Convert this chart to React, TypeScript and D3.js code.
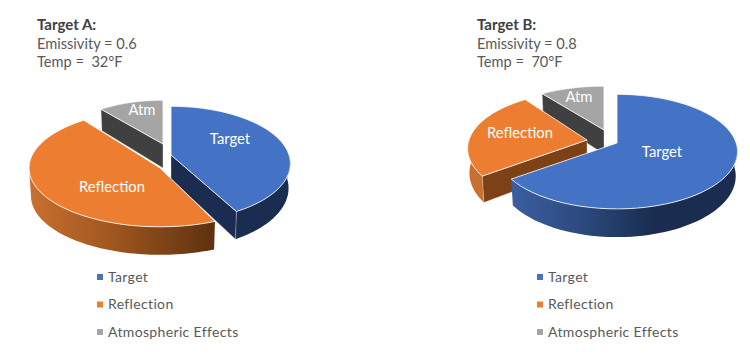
import React from "react";
import * as d3 from "d3";

const categories = ["Target", "Reflection", "Atm"];
const legendLabels = ["Target", "Reflection", "Atmospheric Effects"];
const targetAValues = [42, 47, 11];
const targetBValues = [65, 25, 10];
const targetANotes = ["Target A:", "Emissivity = 0.6", "Temp =  32°F"];
const targetBNotes = ["Target B:", "Emissivity = 0.8", "Temp =  70°F"];

const W = 750, H = 357;
const FONT = "Lato, Carlito, sans-serif";
const TOP = ["#4472c4", "#ed7d31", "#a5a5a5"];
const CUT = ["#1a2d50", "#7c4216", "#404040"];
const R = 118, B = 56, DEPTH = 24, BOTTOM_SHRINK = 0.985;
const TAU = 2 * Math.PI;

type Pt = [number, number];
type Slice = { i: number; a0: number; a1: number };
type Geo = { apex: Pt; sx: number; sy: number; rot: number; p: number; d: number };

function project(g: Geo, a: number, bottom = false): Pt {
  const X = Math.sin(a), Y = Math.cos(a);
  const s = 1 / (1 + g.p * Y);
  const k = bottom ? BOTTOM_SHRINK : 1;
  return [
    g.apex[0] + R * g.sx * X * s * k,
    g.apex[1] - B * g.sy * Y * s + (bottom ? g.d * s : 0),
  ];
}
const line = d3.line<Pt>();
const ring = (g: Geo, a0: number, a1: number, bottom = false): Pt[] =>
  d3.range(0, 61).map((k) => project(g, a0 + ((a1 - a0) * k) / 60, bottom));

type PieCfg = {
  id: string;
  values: number[];
  notes: string[];
  notesX: number;
  legendX: number;
  geo: Geo[];
  labels: Pt[];
  wall: Record<number, { x0: number; x1: number; stops: [number, string][] }>;
};

const deg = Math.PI / 180;

const pies: PieCfg[] = [
  {
    id: "a",
    values: targetAValues,
    notes: targetANotes,
    notesX: 37,
    legendX: 97,
    geo: [
      { apex: [171, 155], sx: 1, sy: 1, rot: 0, p: 0.15, d: DEPTH },
      { apex: [160, 168], sx: 1.11, sy: 1.05, rot: 4 * deg, p: 0, d: 28 },
      { apex: [163, 144], sx: 0.92, sy: 0.9, rot: 0, p: 0.15, d: DEPTH },
    ],
    labels: [[230, 139], [112, 187], [142, 110]],
    wall: {
      0: { x0: 236, x1: 290, stops: [[0, "#1a2d50"], [1, "#1a2d50"]] },
      1: { x0: 30, x1: 213, stops: [[0, "#c8702f"], [0.45, "#a0561f"], [1, "#5e3210"]] },
    },
  },
  {
    id: "b",
    values: targetBValues,
    notes: targetBNotes,
    notesX: 477,
    legendX: 537,
    geo: [
      { apex: [617, 143], sx: 1.01, sy: 1, rot: 0, p: 0.15, d: DEPTH },
      { apex: [587, 140], sx: 1, sy: 1, rot: 0, p: 0.15, d: DEPTH },
      { apex: [604, 130], sx: 1, sy: 0.9, rot: 0, p: 0.15, d: DEPTH },
    ],
    labels: [[662, 152], [520, 133], [579, 97]],
    wall: {
      0: { x0: 514, x1: 738, stops: [[0, "#3a5e9e"], [0.3, "#2c4a7e"], [0.62, "#1a2d50"], [1, "#1a2d50"]] },
      1: { x0: 468, x1: 485, stops: [[0, "#c8702f"], [1, "#c8702f"]] },
    },
  },
];

function Pie({ cfg }: { cfg: PieCfg }) {
  const arcs = d3.pie<number>().sort(null).startAngle(0).endAngle(TAU)(cfg.values);
  const slices: Slice[] = arcs.map((d, i) => ({
    i,
    a0: d.startAngle + cfg.geo[i].rot,
    a1: d.endAngle + cfg.geo[i].rot,
  }));
  const order = [...slices].sort(
    (p, q) => Math.cos((q.a0 + q.a1) / 2) - Math.cos((p.a0 + p.a1) / 2)
  );
  return (
    <g>
      <defs>
        {Object.entries(cfg.wall).map(([k, w]) => (
          <linearGradient
            key={k}
            id={`wall-${cfg.id}-${k}`}
            gradientUnits="userSpaceOnUse"
            x1={w.x0}
            x2={w.x1}
            y1={0}
            y2={0}
          >
            {w.stops.map(([o, c]) => (
              <stop key={o} offset={o} stopColor={c} />
            ))}
          </linearGradient>
        ))}
      </defs>
      {order.map(({ i, a0, a1 }) => {
        const g = cfg.geo[i];
        const apex = g.apex;
        const apexB: Pt = [apex[0], apex[1] + g.d];
        const cuts: number[] = [];
        if (Math.sin(a0) < -1e-6) cuts.push(a0);
        if (Math.sin(a1) > 1e-6) cuts.push(a1);
        const wa0 = Math.max(a0, Math.PI / 2);
        const wa1 = Math.min(a1, (3 * Math.PI) / 2);
        return (
          <g key={i}>
            {wa1 > wa0 && (
              <path
                d={line([...ring(g, wa0, wa1), ...ring(g, wa1, wa0, true)])! + "Z"}
                fill={`url(#wall-${cfg.id}-${i})`}
              />
            )}
            {cuts.map((c) => {
              const rim = project(g, c);
              const rimB = project(g, c, true);
              return (
                <path
                  key={c}
                  d={line([apex, rim, rimB, apexB])! + "Z"}
                  fill={CUT[i]}
                  stroke="#ffffff"
                  strokeOpacity={0.55}
                  strokeWidth={0.6}
                />
              );
            })}
            <path
              d={line([apex, ...ring(g, a0, a1)])! + "Z"}
              fill={TOP[i]}
              stroke="#ffffff"
              strokeWidth={0.8}
              strokeLinejoin="round"
            />
          </g>
        );
      })}
      {categories.map((c, i) => (
        <text
          key={c}
          x={cfg.labels[i][0]}
          y={cfg.labels[i][1]}
          dy="0.35em"
          textAnchor="middle"
          fontFamily={FONT}
          fontSize={14.8}
          fill="#ffffff"
        >
          {c}
        </text>
      ))}
      {cfg.notes.map((n, i) => (
        <text
          key={n}
          x={cfg.notesX}
          y={30 + i * 18.7}
          xmlSpace="preserve"
          style={{ whiteSpace: "pre" }}
          fontFamily={FONT}
          fontSize={i === 0 ? 15 : 14.6}
          fontWeight={i === 0 ? 700 : 400}
          fill={i === 0 ? "#404040" : "#595959"}
        >
          {n}
        </text>
      ))}
      {legendLabels.map((l, i) => {
        const y = 277 + i * 27.5;
        return (
          <g key={l}>
            <rect x={cfg.legendX} y={y - 3} width={6} height={6} fill={TOP[i]} />
            <text
              x={cfg.legendX + 11}
              y={y}
              dy="0.35em"
              fontFamily={FONT}
              fontSize={14}
              letterSpacing={0.35}
              fill="#595959"
            >
              {l}
            </text>
          </g>
        );
      })}
    </g>
  );
}

export default function App() {
  return (
    <svg
      width={W}
      height={H}
      viewBox={`0 0 ${W} ${H}`}
      style={{ position: "absolute", left: 0, top: 0, display: "block", background: "#ffffff" }}
    >
      {pies.map((p) => (
        <Pie key={p.id} cfg={p} />
      ))}
    </svg>
  );
}
